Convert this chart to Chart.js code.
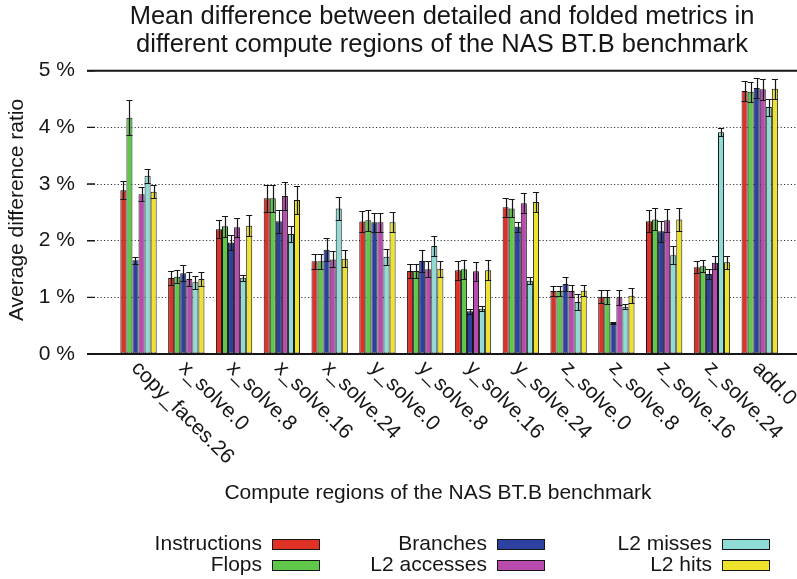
<!DOCTYPE html>
<html>
<head>
<meta charset="utf-8">
<script src="https://cdn.jsdelivr.net/npm/chart.js@4.4.0/dist/chart.umd.min.js"></script>
<style>
  html, body { margin: 0; padding: 0; background: #ffffff; }
  #wrap { width: 797px; height: 579px; }
</style>
</head>
<body>
<div id="wrap"><canvas id="chart" width="797" height="579"></canvas></div>
<script>
// Compute regions (x categories)
const regions = ['copy_faces.26', 'x_solve.0', 'x_solve.8', 'x_solve.16', 'x_solve.24',
  'y_solve.0', 'y_solve.8', 'y_solve.16', 'y_solve.24',
  'z_solve.0', 'z_solve.8', 'z_solve.16', 'z_solve.24', 'add.0'];

// Mean difference ratio (%) per metric
const instructions = [2.89, 1.34, 2.20, 2.75, 1.635, 2.34, 1.465, 1.476, 2.588, 1.112, 1.012, 2.341, 1.529, 4.641];
const flops        = [4.17, 1.365, 2.253, 2.747, 1.635, 2.359, 1.465, 1.494, 2.57, 1.112, 1.006, 2.376, 1.547, 4.629];
const branches     = [1.653, 1.424, 1.97, 2.341, 1.841, 2.324, 1.641, 0.753, 2.247, 1.235, 0.547, 2.165, 1.412, 4.694];
const l2Accesses   = [2.818, 1.324, 2.235, 2.788, 1.67, 2.324, 1.494, 1.459, 2.659, 1.112, 1.0, 2.359, 1.612, 4.671];
const l2Misses     = [3.147, 1.265, 1.347, 2.118, 2.57, 1.718, 1.906, 0.8, 1.294, 0.918, 0.835, 1.741, 3.912, 4.359];
const l2Hits       = [2.865, 1.324, 2.265, 2.718, 1.682, 2.324, 1.506, 1.476, 2.682, 1.118, 1.029, 2.376, 1.618, 4.682];

// Error half-widths (%) per metric
const instructionsErr = [0.16, 0.12, 0.16, 0.24, 0.13, 0.18, 0.13, 0.17, 0.17, 0.09, 0.12, 0.195, 0.105, 0.18];
const flopsErr        = [0.31, 0.12, 0.18, 0.24, 0.13, 0.18, 0.13, 0.17, 0.16, 0.09, 0.12, 0.195, 0.105, 0.18];
const branchesErr     = [0.06, 0.14, 0.13, 0.20, 0.20, 0.165, 0.20, 0.05, 0.09, 0.13, 0.02, 0.18, 0.08, 0.18];
const l2AccessesErr   = [0.125, 0.12, 0.17, 0.25, 0.14, 0.17, 0.14, 0.17, 0.175, 0.10, 0.13, 0.20, 0.11, 0.18];
const l2MissesErr     = [0.125, 0.12, 0.05, 0.14, 0.20, 0.14, 0.18, 0.04, 0.065, 0.135, 0.045, 0.16, 0.07, 0.15];
const l2HitsErr       = [0.12, 0.12, 0.18, 0.24, 0.15, 0.175, 0.14, 0.175, 0.18, 0.10, 0.13, 0.20, 0.115, 0.18];

// Y axis tick values (%)
const yTicks = [0, 1, 2, 3, 4, 5];

const FONT = '"Liberation Sans", Arial, Helvetica, sans-serif';
const INK = '#161616';
const TEXT_SIZE = 21;

const series = [
  { name: 'Instructions', values: instructions, err: instructionsErr, color: '#e03127' },
  { name: 'Flops',        values: flops,        err: flopsErr,        color: '#5fc84a' },
  { name: 'Branches',     values: branches,     err: branchesErr,     color: '#2c41a0' },
  { name: 'L2 accesses',  values: l2Accesses,   err: l2AccessesErr,   color: '#b94aae' },
  { name: 'L2 misses',    values: l2Misses,     err: l2MissesErr,     color: '#8fdcd6' },
  { name: 'L2 hits',      values: l2Hits,       err: l2HitsErr,       color: '#eee32c' }
];

// Error bars: vertical whisker with a cap at both ends, centred on each bar
const errorBars = {
  id: 'errorBars',
  afterDatasetsDraw(chart) {
    const { ctx } = chart;
    const y = chart.scales.y;
    ctx.save();
    ctx.strokeStyle = INK;
    ctx.lineWidth = 1.2;
    chart.data.datasets.forEach((ds, di) => {
      const meta = chart.getDatasetMeta(di);
      meta.data.forEach((bar, i) => {
        const v = ds.data[i].y, e = ds.errors[i];
        const yTop = Math.round(y.getPixelForValue(v + e)) + 0.5;
        const yBot = Math.round(y.getPixelForValue(v - e)) + 0.5;
        const half = bar.width / 2;
        const x = Math.round(bar.x) + 0.5;
        ctx.beginPath();
        ctx.moveTo(x, yTop); ctx.lineTo(x, yBot);
        ctx.moveTo(bar.x - half, yTop); ctx.lineTo(bar.x + half, yTop);
        ctx.moveTo(bar.x - half, yBot); ctx.lineTo(bar.x + half, yBot);
        ctx.stroke();
      });
    });
    ctx.restore();
  }
};

// Plot frame: solid top/bottom rules and short inward y ticks
const frame = {
  id: 'frame',
  afterDatasetsDraw(chart) {
    const { ctx, chartArea: a } = chart;
    const y = chart.scales.y;
    ctx.save();
    ctx.strokeStyle = INK;
    ctx.lineWidth = 2;
    ctx.beginPath();
    ctx.moveTo(a.left, a.top); ctx.lineTo(a.right, a.top);
    ctx.moveTo(a.left, a.bottom); ctx.lineTo(a.right, a.bottom);
    ctx.stroke();
    ctx.lineWidth = 1.4;
    ctx.beginPath();
    yTicks.forEach(t => {
      const py = y.getPixelForValue(t);
      ctx.moveTo(a.left, py); ctx.lineTo(a.left + 8, py);
    });
    ctx.stroke();
    ctx.restore();
  }
};

// Rotated region names, x axis title and the three-column legend
const annotations = {
  id: 'annotations',
  afterDraw(chart) {
    const { ctx, chartArea: a } = chart;
    const x = chart.scales.x;
    ctx.save();
    ctx.fillStyle = INK;
    ctx.font = TEXT_SIZE + 'px ' + FONT;
    regions.forEach((name, i) => {
      const px = x.getPixelForValue(i);
      ctx.save();
      ctx.translate(px - 4, a.bottom + 11);
      ctx.rotate(Math.PI / 4);
      ctx.textAlign = 'left';
      ctx.textBaseline = 'middle';
      ctx.fillText(name, 0, 0);
      ctx.restore();
    });

    ctx.textAlign = 'center';
    ctx.textBaseline = 'middle';
    ctx.fillText('Compute regions of the NAS BT.B benchmark', 438, 493);

    const colRight = [262, 487, 712];
    const rowY = [544, 565];
    series.forEach((s, i) => {
      const col = Math.floor(i / 2), row = i % 2;
      const tx = colRight[col], ty = rowY[row];
      ctx.textAlign = 'right';
      ctx.fillStyle = INK;
      ctx.fillText(s.name, tx, ty);
      ctx.fillStyle = s.color;
      ctx.fillRect(tx + 10, ty - 5, 48, 11);
      ctx.strokeStyle = INK;
      ctx.lineWidth = 1;
      ctx.strokeRect(tx + 10.5, ty - 4.5, 47, 10);
    });

    // y axis title
    ctx.save();
    ctx.translate(17, 210);
    ctx.rotate(-Math.PI / 2);
    ctx.textAlign = 'center';
    ctx.textBaseline = 'middle';
    ctx.fillStyle = INK;
    ctx.fillText('Average difference ratio', 0, 0);
    ctx.restore();
    ctx.restore();
  }
};

new Chart(document.getElementById('chart'), {
  type: 'bar',
  data: {
    datasets: series.map(s => ({
      label: s.name,
      data: s.values.map((v, i) => ({ x: i, y: v })),
      errors: s.err,
      backgroundColor: s.color,
      borderColor: INK,
      borderWidth: 1,
      borderSkipped: false
    }))
  },
  options: {
    responsive: false,
    animation: false,
    devicePixelRatio: 1,
    layout: { padding: 0 },
    datasets: { bar: { categoryPercentage: 0.76, barPercentage: 1.0 } },
    plugins: {
      legend: { display: false },
      tooltip: { enabled: false },
      title: {
        display: true,
        fullSize: false,
        text: ['Mean difference between detailed and folded metrics in',
               'different compute regions of the NAS BT.B benchmark'],
        color: INK,
        font: { family: FONT, size: 25.5, weight: 'normal', lineHeight: 1.1 },
        padding: { top: 3, bottom: 11.6 }
      }
    },
    scales: {
      x: {
        type: 'linear',
        offset: false,
        min: -1.078,
        max: 13.78,
        grid: { display: false, offset: false },
        border: { display: false },
        ticks: { display: false },
        afterBuildTicks: s => { s.ticks = regions.map((_, i) => ({ value: i })); },
        afterFit: s => { s.height = 225; }
      },
      y: {
        min: 0,
        max: 5,
        afterBuildTicks: s => { s.ticks = yTicks.map(v => ({ value: v })); },
        ticks: {
          callback: v => v + ' %',
          color: INK,
          font: { family: FONT, size: TEXT_SIZE },
          padding: 12
        },
        grid: {
          drawTicks: false,
          color: c => (c.tick && c.tick.value > 0 && c.tick.value < 5) ? '#3a3a3a' : 'rgba(0,0,0,0)',
          lineWidth: 1
        },
        border: { display: false, dash: [1.2, 2.2] },
        afterFit: s => { s.width = 87; }
      }
    }
  },
  plugins: [errorBars, frame, annotations]
});
</script>
</body>
</html>
